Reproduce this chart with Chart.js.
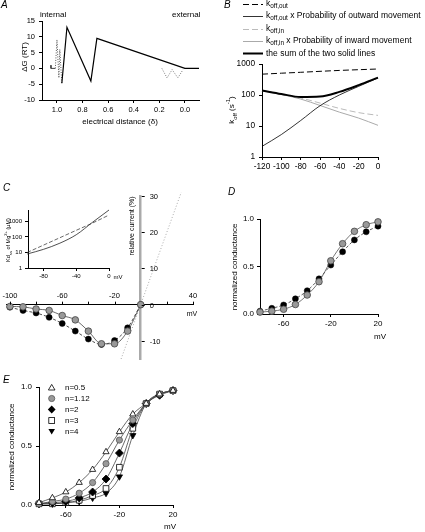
<!DOCTYPE html>
<html>
<head>
<meta charset="utf-8">
<script src="https://cdn.jsdelivr.net/npm/chart.js@4.4.1/dist/chart.umd.min.js"></script>
<style>
body { margin: 0; background: #fff; }
#fig { position: relative; width: 425px; height: 532px; overflow: hidden; font-family: 'Liberation Sans', Arial, sans-serif; color: #000; }
#fig canvas { position: absolute; }
.t { position: absolute; white-space: nowrap; font-size: 8px; line-height: 1; transform: translateY(-50%); z-index: 5; }
.c { transform: translate(-50%, -50%); }
.r { transform: translate(-50%, -50%) rotate(-90deg); }
.pl { font-style: italic; font-size: 10px; }
.lg { font-size: 8.5px; }
sub, sup { font-size: 75%; line-height: 0; }
#marks { position: absolute; left: 0; top: 0; z-index: 4; }
</style>
</head>
<body>
<div id="fig">
  <!-- panel A -->
  <div class="t pl" style="left:1px;top:5px">A</div>
  <div class="t" style="left:40px;top:15px">internal</div>
  <div class="t" style="left:172px;top:15px">external</div>
  <div class="t r" style="left:25px;top:57px">&Delta;G (RT)</div>
  <div class="t c" style="left:120px;top:122px">electrical distance (&delta;)</div>
  <!-- panel B -->
  <div class="t pl" style="left:224px;top:5px">B</div>
  <div class="t lg" style="left:266px;top:3px">k<sub>off,out</sub></div>
  <div class="t lg" style="left:266px;top:15px">k<sub>off,out</sub> x Probability of outward movement</div>
  <div class="t lg" style="left:266px;top:28px">k<sub>off,in</sub></div>
  <div class="t lg" style="left:266px;top:40px">k<sub>off,in</sub> x Probability of inward movement</div>
  <div class="t lg" style="left:266px;top:53px">the sum of the two solid lines</div>
  <div class="t r" style="left:232px;top:110px">k<sub>off</sub> (s<sup>-1</sup>)</div>
  <!-- panel C -->
  <div class="t pl" style="left:3px;top:188px">C</div>
  <div class="t r" style="left:131px;top:226px;font-size:7px">relative current (%)</div>
  <div class="t c" style="left:192px;top:313px;font-size:7px">mV</div>
  <div class="t r" style="left:9px;top:240px;font-size:5.5px">Kd<sub>ss</sub> of Mg<sup>2+</sup> (&micro;M)</div>
  <div class="t c" style="left:118px;top:277px;font-size:6px">mV</div>
  <!-- panel D -->
  <div class="t pl" style="left:228px;top:192px">D</div>
  <div class="t r" style="left:235px;top:267px">normalized conductance</div>
  <div class="t c" style="left:380px;top:337px">mV</div>
  <!-- panel E -->
  <div class="t pl" style="left:3px;top:380px">E</div>
  <div class="t r" style="left:12px;top:447px">normalized conductance</div>
  <div class="t c" style="left:170px;top:527px">mV</div>
  <div class="t" style="left:65px;top:387.5px">n=0.5</div>
  <div class="t" style="left:65px;top:398.5px">n=1.12</div>
  <div class="t" style="left:65px;top:409.5px">n=2</div>
  <div class="t" style="left:65px;top:420.5px">n=3</div>
  <div class="t" style="left:65px;top:431.5px">n=4</div>

  <svg id="marks" width="425" height="532">
    <!-- legend of B -->
    <line x1="243" y1="4.5" x2="263" y2="4.5" stroke="#000" stroke-width="1" stroke-dasharray="6 3"/>
    <line x1="243" y1="16.5" x2="263" y2="16.5" stroke="#000" stroke-width="0.8"/>
    <line x1="243" y1="29.5" x2="263" y2="29.5" stroke="#bbb" stroke-width="1" stroke-dasharray="6 3"/>
    <line x1="243" y1="41.5" x2="263" y2="41.5" stroke="#aaa" stroke-width="1"/>
    <line x1="243" y1="53.5" x2="263" y2="53.5" stroke="#000" stroke-width="2"/>
    <!-- legend of E -->
    <polygon points="51.7,384.4 48.4,390 55,390" fill="#fff" stroke="#000" stroke-width="0.8"/>
    <circle cx="51.7" cy="398.5" r="3.1" fill="#999" stroke="#555" stroke-width="0.8"/>
    <polygon points="51.7,405.6 55.6,409.5 51.7,413.4 47.8,409.5" fill="#000"/>
    <rect x="48.8" y="417.6" width="5.8" height="5.8" fill="#fff" stroke="#000" stroke-width="0.8"/>
    <polygon points="48.4,429 55,429 51.7,434.6" fill="#000"/>
  </svg>
</div>

<script>
// ---------- panel A : energy profile ----------
var aTicksX = [1.0, 0.8, 0.6, 0.4, 0.2, 0.0];
var aTicksY = [-10, -5, 0, 5, 10, 15];
var aProfileX = [0.962, 0.922, 0.735, 0.688, 0.0, -0.11];
var aProfileY = [-4.7, 13.0, -4.0, 9.5, 0, 0];
var aStubX = [1.047, 1.047, 1.013];
var aStubY = [1, 0, 0];
var aDotInX = [1.013, 1.0, 0.985, 0.978, 0.962];
var aDotInY = [0, 9, -3, 6, -4.7];
var aDotOutX = [0.18, 0.14, 0.10, 0.055, 0.015];
var aDotOutY = [0, -3, -0.4, -3, -0.4];

// ---------- panel B : koff vs voltage ----------
var bVolt = [-120, -100, -80, -60, -40, -20, 0];
var bKoffOut = [470, 505, 540, 580, 620, 655, 690];
var bKoffOutP = [2.2, 5.3, 15, 45, 100, 190, 355];
var bKoffIn = [140, 107, 80, 55, 37, 27, 22];
var bKoffInP = [138, 104, 74, 46, 28, 18, 10.5];
var bSum = [140, 108, 86, 89, 126, 208, 365];
var bTicksX = [-120, -100, -80, -60, -40, -20, 0];
var bTicksY = [1, 10, 100, 1000];

// ---------- panel C : I-V + inset ----------
var cVolt = [-100, -90, -80, -70, -60, -50, -40, -30, -20, -10, 0];
var cGray = [-0.5, -0.6, -1.2, -1.6, -3.0, -4.2, -7.3, -10.8, -10.8, -7.3, 0];
var cBlack = [-0.7, -1.6, -2.3, -3.5, -5.2, -7.3, -9.5, -11.0, -9.9, -6.4, 0];
var cLinX = [-15, 31];
var cLinY = [-15, 31];
var cTicksX = [-100, -80, -60, -40, -20, 20, 40];
var cLabelsX = [-100, -60, -20, 40];
var cTicksY = [-10, 0, 10, 20, 30];
var insVolt = [-100, -80, -60, -40, -20, 0];
var insKdSolid = [8, 16, 40, 140, 900, 5500];
var insKdDashed = [10, 30, 90, 270, 800, 2600];
var insTicksX = [-80, -40, 0];
var insTicksY = [1, 10, 100, 1000];

// ---------- panel D ----------
var dVolt = [-80, -70, -60, -50, -40, -30, -20, -10, 0, 10, 20];
var dBlack = [0.03, 0.06, 0.095, 0.16, 0.245, 0.37, 0.515, 0.655, 0.78, 0.865, 0.925];
var dGray = [0.02, 0.03, 0.05, 0.10, 0.20, 0.34, 0.56, 0.74, 0.87, 0.94, 0.97];
var dTicksX = [-60, -20, 20];
var dTicksY = [0, 0.5, 1.0];

// ---------- panel E ----------
var eVolt = [-80, -70, -60, -50, -40, -30, -20, -10, 0, 10, 20];
var eN05 = [0.02, 0.06, 0.11, 0.19, 0.30, 0.45, 0.62, 0.77, 0.86, 0.94, 0.97];
var eN112 = [0.01, 0.03, 0.05, 0.10, 0.19, 0.35, 0.55, 0.72, 0.86, 0.94, 0.97];
var eN2 = [0.01, 0.02, 0.03, 0.06, 0.11, 0.22, 0.44, 0.69, 0.86, 0.93, 0.97];
var eN3 = [0.01, 0.01, 0.02, 0.04, 0.08, 0.14, 0.32, 0.65, 0.86, 0.94, 0.97];
var eN4 = [0.01, 0.01, 0.02, 0.03, 0.06, 0.10, 0.24, 0.59, 0.86, 0.94, 0.97];
var eTicksX = [-60, -20, 20];
var eTicksY = [0, 0.5, 1.0];

var FAMILY = "'Liberation Sans', Arial, sans-serif";
Chart.defaults.font.family = FAMILY;

function pts(xs, ys) {
    return xs.map(function (x, i) { return { x: x, y: ys[i] }; });
}

// fixed-size axis so the plot area lands where we want it
function axis(type, min, max, ticks, size, horiz, fmt, fontSize, pad) {
    return {
        type: type, min: min, max: max,
        border: { display: true, color: '#000', width: 1 },
        grid: { drawOnChartArea: false, drawTicks: true, tickLength: 3, color: '#000', lineWidth: 1 },
        ticks: {
            font: { family: FAMILY, size: fontSize || 8 }, color: '#000',
            padding: pad === undefined ? 2 : pad, maxRotation: 0, autoSkip: false,
            callback: function (v) { return fmt ? fmt(v) : String(v); }
        },
        afterBuildTicks: function (s) { s.ticks = ticks.map(function (v) { return { value: v }; }); },
        afterFit: function (s) {
            if (horiz) s.height = size; else s.width = size;
            s.paddingLeft = 0; s.paddingRight = 0; s.paddingTop = 0; s.paddingBottom = 0;
        }
    };
}

function panel(box, pads, scales, datasets, plugins, fullPad) {
    var c = document.createElement('canvas');
    c.width = box.r - box.l + pads.l + pads.r;
    c.height = box.b - box.t + pads.t + pads.b;
    c.style.left = (box.l - pads.l) + 'px';
    c.style.top = (box.t - pads.t) + 'px';
    document.getElementById('fig').appendChild(c);
    return new Chart(c, {
        type: 'scatter',
        data: { datasets: datasets },
        options: {
            responsive: false, animation: false, events: [],
            layout: { padding: fullPad ? { left: pads.l, top: pads.t, right: pads.r, bottom: pads.b }
                                       : { left: 0, top: pads.t, right: pads.r, bottom: 0 } },
            plugins: { legend: { display: false }, tooltip: { enabled: false } },
            scales: scales
        },
        plugins: plugins || []
    });
}

function line(data, color, width, dash, extra) {
    var d = {
        data: data, showLine: true, borderColor: color, borderWidth: width,
        borderDash: dash || [], pointRadius: 0, fill: false, clip: false
    };
    for (var k in extra) d[k] = extra[k];
    return d;
}

var fmt1 = function (v) { return v.toFixed(1); };

// A
panel({ l: 42, t: 21, r: 199, b: 100 }, { l: 42, t: 6, r: 8, b: 14 }, {
    x: Object.assign(axis('linear', -0.11, 1.117, aTicksX, 14, true, fmt1, 7.5), { reverse: true }),
    y: axis('linear', -10, 15, aTicksY, 42, false, null, 7.5, 4)
}, [
    line(pts(aProfileX, aProfileY), '#000', 1.2),
    line(pts(aStubX, aStubY), '#444', 1),
    line(pts(aDotInX, aDotInY), '#555', 1, [1, 1.5]),
    line(pts(aDotOutX, aDotOutY), '#777', 1, [1, 1.5])
]);

// B
var smooth = { cubicInterpolationMode: 'monotone' };
panel({ l: 262, t: 64, r: 378, b: 157 }, { l: 30, t: 6, r: 10, b: 16 }, {
    x: axis('linear', -120, 0, bTicksX, 16, true, null, 8.3),
    y: axis('logarithmic', 1, 1000, bTicksY, 30, false, null, 8.3, 4)
}, [
    line(pts(bVolt, bSum), '#000', 2, [], smooth),
    line(pts(bVolt, bKoffOutP), '#000', 0.8, [], smooth),
    line(pts(bVolt, bKoffOut), '#000', 1, [6, 3], smooth),
    line(pts(bVolt, bKoffInP), '#aaa', 1, [], smooth),
    line(pts(bVolt, bKoffIn), '#bbb', 1, [6, 3], smooth)
]);

// C main: axes cross at the origin
var crossAxes = {
    id: 'crossAxes',
    afterDatasetsDraw: function (chart) {
        var ctx = chart.ctx, xs = chart.scales.x, ys = chart.scales.y;
        var x0 = xs.getPixelForValue(0), y0 = ys.getPixelForValue(0);
        ctx.save();
        ctx.strokeStyle = '#000'; ctx.fillStyle = '#000'; ctx.lineWidth = 1;
        ctx.font = '7.5px ' + FAMILY;
        ctx.textAlign = 'center'; ctx.textBaseline = 'middle';
        cTicksX.forEach(function (v) {
            var px = Math.round(xs.getPixelForValue(v)) + 0.5;
            ctx.beginPath(); ctx.moveTo(px, y0); ctx.lineTo(px, y0 - 3); ctx.stroke();
        });
        cLabelsX.forEach(function (v) { ctx.fillText(String(v), xs.getPixelForValue(v), y0 - 9); });
        ctx.textAlign = 'left';
        cTicksY.forEach(function (v) {
            var py = Math.round(ys.getPixelForValue(v)) + 0.5;
            ctx.beginPath(); ctx.moveTo(x0 + 1, py); ctx.lineTo(x0 + 4, py); ctx.stroke();
            ctx.fillText(String(v), x0 + 9, py);
        });
        ctx.restore();
    }
};
function crossScale(min, max, pos, color, width) {
    return {
        type: 'linear', min: min, max: max, position: pos,
        border: { display: true, color: color, width: width },
        grid: { display: true, drawOnChartArea: false, drawTicks: false },
        ticks: { display: false },
        afterFit: function (s) { s.paddingLeft = 0; s.paddingRight = 0; s.paddingTop = 0; s.paddingBottom = 0; }
    };
}
var grayPt = { pointRadius: 3.3, pointBackgroundColor: '#999', pointBorderColor: '#444', pointBorderWidth: 0.8 };
var blackPt = { pointRadius: 3, pointBackgroundColor: '#000', pointBorderColor: '#000', pointBorderWidth: 0.5 };
panel({ l: 6, t: 196, r: 193, b: 359 }, { l: 6, t: 6, r: 12, b: 6 }, {
    x: crossScale(-103, 40, { y: 0 }, '#000', 1),
    y: crossScale(-15, 30, { x: 0 }, '#aaa', 2.5)
}, [
    line(pts(cVolt, cGray), '#444', 0.8, [], Object.assign({}, smooth, grayPt)),
    line(pts(cVolt, cBlack), '#222', 0.8, [3, 2], Object.assign({}, smooth, blackPt)),
    line(pts(cLinX, cLinY), '#aaa', 1, [1, 2])
], [crossAxes], true);

// C inset
panel({ l: 28, t: 210, r: 109, b: 268 }, { l: 20, t: 4, r: 6, b: 12 }, {
    x: axis('linear', -99, 0, insTicksX, 12, true, null, 6),
    y: axis('logarithmic', 1, 5500, insTicksY, 20, false, null, 6, 3)
}, [
    line(pts(insVolt, insKdSolid), '#222', 0.8, [], smooth),
    line(pts(insVolt, insKdDashed), '#444', 0.8, [4, 2], smooth)
]);

// D
panel({ l: 260, t: 219, r: 378, b: 314 }, { l: 22, t: 6, r: 12, b: 16 }, {
    x: axis('linear', -80, 20, dTicksX, 16, true),
    y: axis('linear', 0, 1, dTicksY, 22, false, fmt1, 8, 3)
}, [
    line(pts(dVolt, dGray), '#555', 0.8, [], Object.assign({}, smooth, grayPt)),
    line(pts(dVolt, dBlack), '#333', 0.8, [3, 2], Object.assign({}, smooth, blackPt))
]);

// E
function mk(style, bg, border, r, rot) {
    return { pointStyle: style, pointBackgroundColor: bg, pointBorderColor: border,
             pointBorderWidth: 0.8, pointRadius: r, pointRotation: rot || 0 };
}
panel({ l: 39, t: 387, r: 173, b: 505 }, { l: 22, t: 6, r: 12, b: 16 }, {
    x: axis('linear', -80, 20, eTicksX, 16, true),
    y: axis('linear', 0, 1, eTicksY, 22, false, fmt1, 8, 4)
}, [
    line(pts(eVolt, eN05), '#444', 0.8, [], Object.assign({}, smooth, mk('triangle', '#fff', '#000', 3.6))),
    line(pts(eVolt, eN112), '#444', 0.8, [], Object.assign({}, smooth, mk('circle', '#999', '#555', 3.1))),
    line(pts(eVolt, eN2), '#444', 0.8, [], Object.assign({}, smooth, mk('rectRot', '#000', '#000', 4))),
    line(pts(eVolt, eN3), '#444', 0.8, [], Object.assign({}, smooth, mk('rect', '#fff', '#000', 4))),
    line(pts(eVolt, eN4), '#444', 0.8, [], Object.assign({}, smooth, mk('triangle', '#000', '#000', 3.6, 180)))
]);
</script>
</body>
</html>
